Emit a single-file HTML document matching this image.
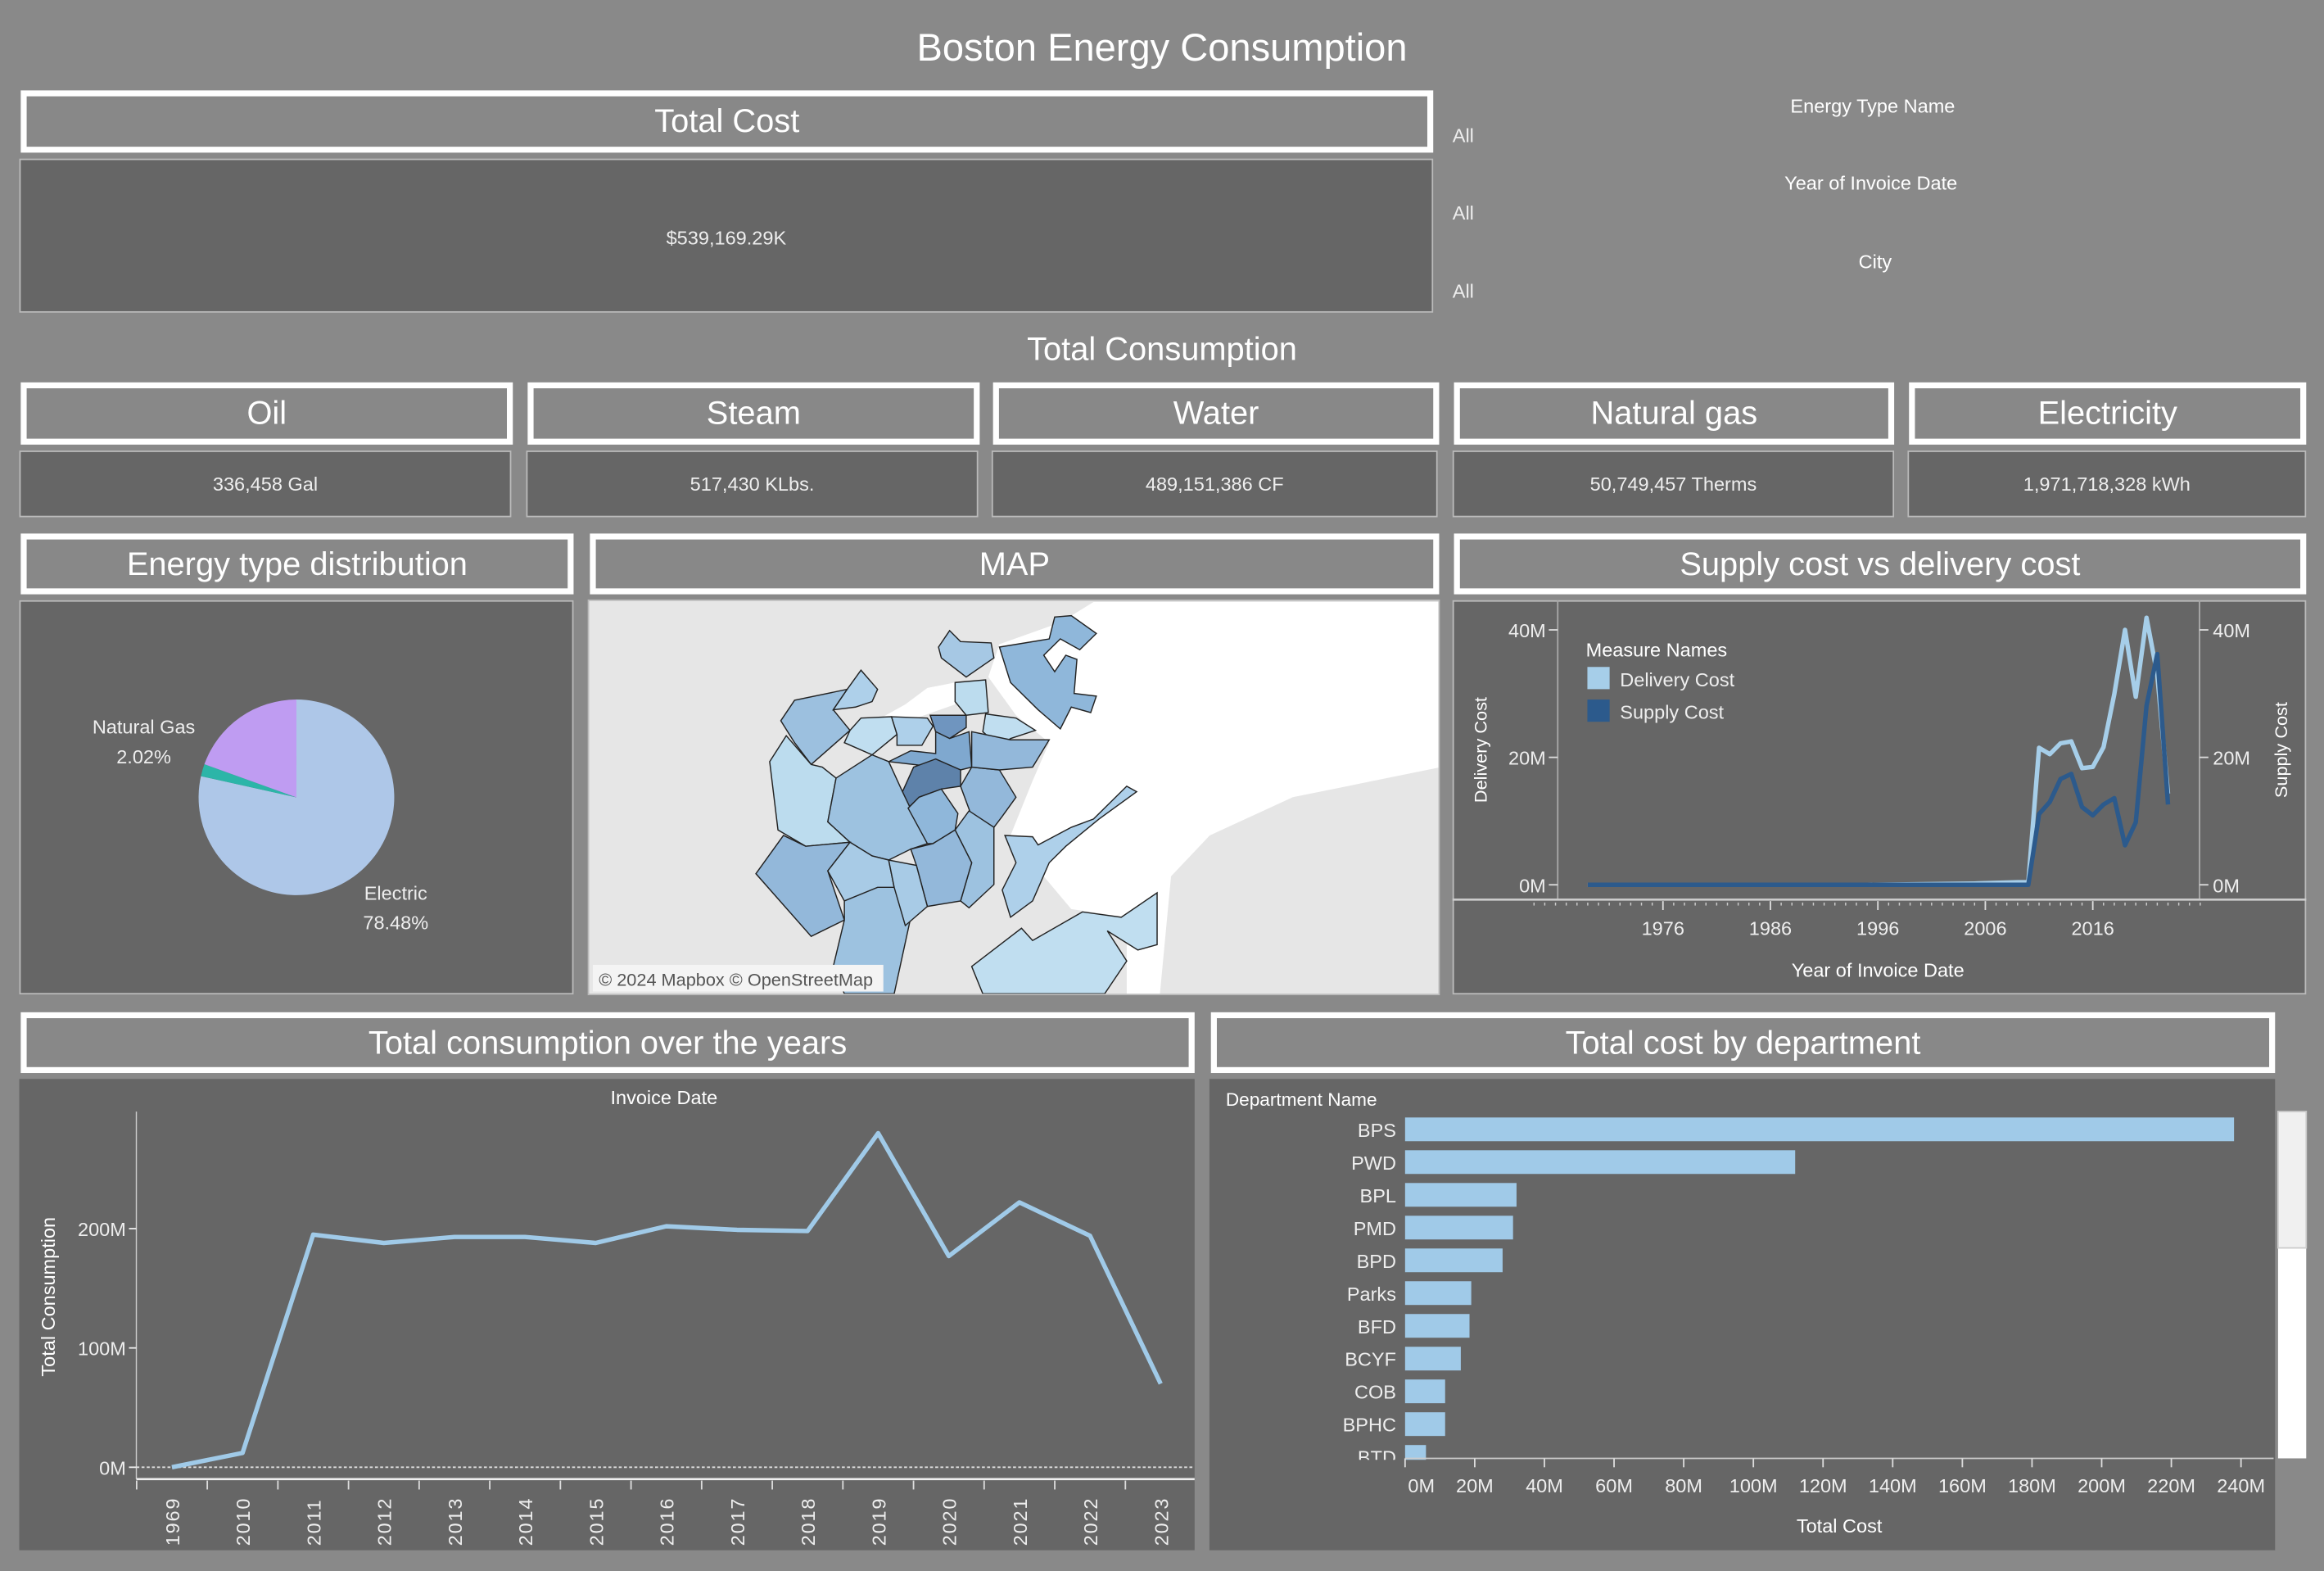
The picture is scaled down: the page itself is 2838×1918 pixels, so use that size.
<!DOCTYPE html>
<html><head><meta charset="utf-8"><style>
html,body{margin:0;padding:0;background:#898989;overflow:hidden}
body{width:2838px;height:1918px}
#root{position:absolute;left:0;top:0;width:1568px;height:1060px;transform-origin:0 0;transform:scale(1.80995,1.80943);font-family:"Liberation Sans",sans-serif;color:#fff}
.abs{position:absolute}
.hdr{position:absolute;box-sizing:border-box;border:4px solid #fff;background:#888;color:#fff;text-align:center;font-size:22px;line-height:33px}
.pan{position:absolute;box-sizing:border-box;background:#666;border:1px solid #bbb}
.val{position:absolute;width:100%;text-align:center;font-size:13px;color:#eee}
.flt{position:absolute;font-size:13px;color:#fff}
.all{position:absolute;font-size:13px;color:#eee;left:980px}
</style></head><body>
<div id="root">
<div class="abs" style="left:0;width:1568px;top:17px;text-align:center;font-size:26px">Boston Energy Consumption</div>

<div class="hdr" style="left:14px;top:61px;width:953px;height:42px">Total Cost</div>
<div class="pan" style="left:13px;top:107px;width:954px;height:104px"><div class="val" style="top:45px">$539,169.29K</div></div>

<div class="flt" style="left:1208px;top:64px">Energy Type Name</div>
<div class="all" style="top:84px">All</div>
<div class="flt" style="left:1204px;top:116px">Year of Invoice Date</div>
<div class="all" style="top:136px">All</div>
<div class="flt" style="left:1254px;top:169px">City</div>
<div class="all" style="top:189px">All</div>

<div class="abs" style="left:0;width:1568px;top:223px;text-align:center;font-size:22px">Total Consumption</div>

<div class="hdr" style="left:14px;top:258px;width:332px;height:42px">Oil</div>
<div class="pan" style="left:13px;top:304px;width:332px;height:45px"><div class="val" style="top:14px">336,458 Gal</div></div>
<div class="hdr" style="left:356px;top:258px;width:305px;height:42px">Steam</div>
<div class="pan" style="left:355px;top:304px;width:305px;height:45px"><div class="val" style="top:14px">517,430 KLbs.</div></div>
<div class="hdr" style="left:670px;top:258px;width:301px;height:42px">Water</div>
<div class="pan" style="left:669px;top:304px;width:301px;height:45px"><div class="val" style="top:14px">489,151,386 CF</div></div>
<div class="hdr" style="left:981px;top:258px;width:297px;height:42px">Natural gas</div>
<div class="pan" style="left:980px;top:304px;width:298px;height:45px"><div class="val" style="top:14px">50,749,457 Therms</div></div>
<div class="hdr" style="left:1288px;top:258px;width:268px;height:42px">Electricity</div>
<div class="pan" style="left:1287px;top:304px;width:269px;height:45px"><div class="val" style="top:14px">1,971,718,328 kWh</div></div>

<div class="hdr" style="left:14px;top:360px;width:373px;height:41px">Energy type distribution</div>
<div class="hdr" style="left:398px;top:360px;width:573px;height:41px">MAP</div>
<div class="hdr" style="left:981px;top:360px;width:575px;height:41px">Supply cost vs delivery cost</div>

<div class="pan" style="left:13px;top:405px;width:374px;height:266px"></div>
<svg class="abs" style="left:0;top:0" width="1568" height="1060" id="mainsvg"></svg>

<div class="hdr" style="left:14px;top:683px;width:792px;height:41px">Total consumption over the years</div>
<div class="hdr" style="left:817px;top:683px;width:718px;height:41px">Total cost by department</div>
</div>

<script>
// Pie data
const pieLabels=["Electric","Natural Gas","Other"];
const pieValues=[78.48,2.02,19.5];
// Supply vs delivery
const sdYears=[1969,1975,1985,1995,2005,2009,2010,2011,2012,2013,2014,2015,2016,2017,2018,2019,2020,2021,2022,2023];
const deliveryCost=[0,0,0,0,0.2,0.4,0.4,21.5,20.5,22.2,22.5,18.3,18.5,21.6,29.9,40,29.5,41.9,33,14.3];
const supplyCost=[0,0,0,0,0,0,0,11.1,13,16.6,17.4,12.2,10.9,12.6,13.6,6.2,9.8,28.1,36.2,12.6];
const sdTicks=[1976,1986,1996,2006,2016];
const sdYTicks=[0,20,40];
// Consumption
const consYears=["1969","2010","2011","2012","2013","2014","2015","2016","2017","2018","2019","2020","2021","2022","2023"];
const consValues=[0,12,195,188,193,193,188,202,199,198,280,177,222,194,70];
const consTicks=[0,100,200];
// Departments
const depts=["BPS","PWD","BPL","PMD","BPD","Parks","BFD","BCYF","COB","BPHC","BTD"];
const deptCost=[238,112,32,31,28,19,18.5,16,11.5,11.5,6];
const deptTicks=[0,20,40,60,80,100,120,140,160,180,200,220,240];

const NS="http://www.w3.org/2000/svg";
const svg=document.getElementById('mainsvg');
function mk(tag,attrs,parent,text){const e=document.createElementNS(NS,tag);for(const k in attrs)e.setAttribute(k,attrs[k]);if(text!==undefined)e.textContent=text;(parent||svg).appendChild(e);return e;}

// ---- Pie ----
const pcx=200,pcy=538,pr=66;
const pieColors=["#aec7e8","#2cb5a8","#bf9cf2"];
let acc=0;const tot=pieValues.reduce((a,b)=>a+b,0);
pieValues.forEach((v,i)=>{
  const a0=acc/tot*2*Math.PI;acc+=v;const a1=acc/tot*2*Math.PI;
  const x0=pcx+pr*Math.sin(a0),y0=pcy-pr*Math.cos(a0),x1=pcx+pr*Math.sin(a1),y1=pcy-pr*Math.cos(a1);
  const p=mk('path',{d:`M${pcx},${pcy}L${x0},${y0}A${pr},${pr} 0 ${a1-a0>Math.PI?1:0} 1 ${x1},${y1}Z`,fill:pieColors[i]});
  
  
});
let t=mk('text',{x:97,y:495,'text-anchor':'middle','font-size':13,fill:'#eee'},null,'Natural Gas');

mk('text',{x:97,y:515,'text-anchor':'middle','font-size':13,fill:'#eee'},null,pieValues[1].toFixed(2)+'%');
t=mk('text',{x:267,y:607,'text-anchor':'middle','font-size':13,fill:'#eee'},null,'Electric');

mk('text',{x:267,y:627,'text-anchor':'middle','font-size':13,fill:'#eee'},null,pieValues[0].toFixed(2)+'%');

// ---- Map ----
const mg=mk('g',{});

const mclip=mk('clipPath',{id:'mclip'},mg);mk('rect',{x:397,y:405,width:574,height:266},mclip);
const mm=mk('g',{'clip-path':'url(#mclip)'},mg);
mk('rect',{x:397,y:405,width:574,height:266,fill:'#e6e6e6'},mm);
function zp(arr){return arr.map(p=>(386.7+p[0]*0.3735).toFixed(1)+','+(397.9+p[1]*0.1842).toFixed(1)).join(' ');}
mk('polygon',{points:zp([[940,45],[1568,45],[1568,650],[1300,760],[1150,900],[1080,1050],[1060,1480],[1000,1480],[1000,1200],[900,1170],[850,1050],[790,900],[830,700],[860,560],[800,460],[750,320],[770,200],[880,120]]),fill:'#ffffff'},mm);
mk('polygon',{points:zp([[560,465],[620,470],[690,420],[690,340],[640,360],[600,420]]),fill:'#ffffff'},mm);
const polys=[
[[[375,480],[400,405],[495,365],[470,440],[500,515],[430,640],[400,560]],"#9cc0df"],
[[[470,440],[495,365],[520,295],[550,365],[540,410],[510,430]],"#aed0ea"],
[[[500,515],[520,470],[575,465],[585,530],[540,605],[490,560]],"#c0def0"],
[[[355,630],[385,535],[430,640],[450,650],[475,690],[460,850],[500,925],[420,940],[370,880]],"#bcdcee"],
[[[575,465],[640,470],[650,500],[630,570],[585,570],[585,530]],"#aed0ea"],
[[[645,460],[710,460],[710,505],[680,545],[655,520]],"#6f95bf"],
[[[690,340],[745,330],[750,450],[710,460],[690,410]],"#bcdcee"],
[[[745,455],[800,470],[835,515],[790,545],[770,575],[740,520]],"#c0def0"],
[[[570,630],[610,590],[655,600],[655,520],[680,545],[715,520],[720,650],[700,660]],"#7fa8cf"],
[[[595,740],[615,650],[655,620],[700,660],[700,720],[665,730],[625,760],[605,800]],"#5e82aa"],
[[[720,650],[770,660],[800,760],[775,830],[760,870],[720,830],[700,720]],"#93b8da"],
[[[720,520],[790,550],[860,550],[830,650],[770,660],[720,650]],"#93b8da"],
[[[475,690],[540,605],[570,630],[595,740],[640,930],[610,950],[570,990],[540,975],[500,925],[460,850]],"#9dc2e0"],
[[[605,800],[625,760],[665,730],[695,820],[690,880],[650,930],[640,930]],"#8fb7da"],
[[[690,880],[715,810],[760,870],[760,1080],[715,1165],[700,1140],[720,1000]],"#9dc2e0"],
[[[610,950],[650,930],[690,880],[720,1000],[700,1140],[640,1160],[620,1010]],"#93b8da"],
[[[330,1040],[380,900],[420,940],[500,925],[460,1030],[490,1210],[430,1270]],"#93b8da"],
[[[460,1030],[500,925],[540,975],[570,990],[580,1090],[510,1160],[490,1140]],"#a8cbe6"],
[[[490,1140],[550,1090],[580,1090],[610,1200],[580,1480],[490,1480],[470,1380],[490,1210]],"#9dc2e0"],
[[[580,1090],[570,990],[620,1010],[640,1160],[600,1230]],"#a8cbe6"],
[[[770,210],[860,180],[870,100],[900,95],[945,160],[915,220],[880,180],[850,240],[870,300],[890,240],[910,255],[905,380],[945,390],[935,450],[900,430],[880,510],[840,440],[790,340]],"#8fb7da"],
[[[680,150],[700,190],[755,195],[760,250],[710,320],[665,250],[660,210]],"#a6c8e4"],
[[[780,900],[830,905],[840,935],[900,870],[940,840],[1000,720],[1018,740],[950,840],[890,940],[860,1000],[830,1140],[790,1200],[775,1100],[800,1000]],"#aed0ea"],
[[[720,1380],[810,1240],[830,1285],[920,1180],[990,1200],[1055,1110],[1055,1300],[1020,1320],[965,1250],[1000,1360],[960,1480],[740,1480]],"#c0def0"]
];
polys.forEach(p=>{const e=mk('polygon',{points:zp(p[0]),fill:p[1],stroke:'#222','stroke-width':0.8},mm);
 });
mk('rect',{x:400,y:651,width:196,height:18,fill:'#f4f4f4'},mm);
mk('text',{x:404,y:665,'font-size':12,fill:'#555'},mm,'© 2024 Mapbox © OpenStreetMap');
mk('rect',{x:397,y:405,width:574,height:266,fill:'none',stroke:'#bbb','stroke-width':1},mg);

// ---- Supply vs delivery ----
const sg=mk('g',{});

mk('rect',{x:980.5,y:405.5,width:575,height:265,fill:'#666',stroke:'#bbb','stroke-width':1},sg);
const sx=y=>1412+(y-2016)*7.25, sy=v=>597-v*4.3;
mk('line',{x1:1051,y1:405,x2:1051,y2:607,stroke:'#aaa','stroke-width':1},sg);
mk('line',{x1:1484,y1:405,x2:1484,y2:607,stroke:'#aaa','stroke-width':1},sg);
mk('line',{x1:980,y1:607,x2:1556,y2:607,stroke:'#ccc','stroke-width':1.5},sg);
for(let y=1964;y<=2026;y++){mk('line',{x1:sx(y),y1:609,x2:sx(y),y2:611,stroke:'#ccc','stroke-width':0.8},sg);}
sdTicks.forEach(y=>{mk('line',{x1:sx(y),y1:608,x2:sx(y),y2:614,stroke:'#ddd','stroke-width':1},sg);
 mk('text',{x:sx(y),y:631,'text-anchor':'middle','font-size':13,fill:'#eee'},sg,String(y));});
sdYTicks.forEach(v=>{mk('line',{x1:1045,y1:sy(v),x2:1051,y2:sy(v),stroke:'#ddd'},sg);
 mk('text',{x:1043,y:sy(v)+5,'text-anchor':'end','font-size':13,fill:'#eee'},sg,v+'M');
 mk('line',{x1:1484,y1:sy(v),x2:1490,y2:sy(v),stroke:'#ddd'},sg);
 mk('text',{x:1493,y:sy(v)+5,'font-size':13,fill:'#eee'},sg,v+'M');});
mk('text',{x:1267,y:659,'text-anchor':'middle','font-size':13,fill:'#fff'},sg,'Year of Invoice Date');
mk('text',{x:0,y:0,transform:'translate(1003,506) rotate(-90)','text-anchor':'middle','font-size':12,fill:'#fff'},sg,'Delivery Cost');
mk('text',{x:0,y:0,transform:'translate(1543,506) rotate(-90)','text-anchor':'middle','font-size':12,fill:'#fff'},sg,'Supply Cost');
let dl=mk('polyline',{points:sdYears.map((y,i)=>sx(y)+','+sy(deliveryCost[i])).join(' '),fill:'none',stroke:'#a6cee9','stroke-width':3,'stroke-linejoin':'round'},sg);

let sl=mk('polyline',{points:sdYears.map((y,i)=>sx(y)+','+sy(supplyCost[i])).join(' '),fill:'none',stroke:'#2c5a8c','stroke-width':3,'stroke-linejoin':'round'},sg);

mk('text',{x:1070,y:443,'font-size':13,fill:'#fff'},sg,'Measure Names');
let le=mk('rect',{x:1071,y:450,width:15,height:15,fill:'#a6cee9'},sg);

mk('text',{x:1093,y:463,'font-size':13,fill:'#eee'},sg,'Delivery Cost');
le=mk('rect',{x:1071,y:472,width:15,height:15,fill:'#2c5a8c'},sg);

mk('text',{x:1093,y:485,'font-size':13,fill:'#eee'},sg,'Supply Cost');

// ---- Consumption line ----
const cg=mk('g',{});

mk('rect',{x:13,y:728,width:793,height:318,fill:'#666'},cg);
const cx=i=>116+i*47.65, cy=v=>990-v*0.805;
mk('text',{x:448,y:745,'text-anchor':'middle','font-size':13,fill:'#fff'},cg,'Invoice Date');
mk('line',{x1:92,y1:750,x2:92,y2:998,stroke:'#ccc','stroke-width':0.8},cg);
mk('line',{x1:92,y1:998,x2:806,y2:998,stroke:'#eee','stroke-width':1.5},cg);
mk('line',{x1:92,y1:990,x2:806,y2:990,stroke:'#ddd','stroke-width':1,'stroke-dasharray':'2,1.5'},cg);
consTicks.forEach(v=>{mk('line',{x1:87,y1:cy(v),x2:92,y2:cy(v),stroke:'#eee'},cg);
 mk('text',{x:85,y:cy(v)+5,'text-anchor':'end','font-size':13,fill:'#eee'},cg,v+'M');});
consYears.forEach((y,i)=>{mk('line',{x1:cx(i)-23.8,y1:999,x2:cx(i)-23.8,y2:1005,stroke:'#ddd'},cg);
 mk('text',{x:0,y:0,transform:`translate(${cx(i)+5},${1043}) rotate(-90)`,'font-size':13,fill:'#eee','letter-spacing':'1'},cg,y);});
mk('text',{x:0,y:0,transform:'translate(37,875) rotate(-90)','text-anchor':'middle','font-size':13,fill:'#fff'},cg,'Total Consumption');
let cl=mk('polyline',{points:consValues.map((v,i)=>cx(i)+','+cy(v)).join(' '),fill:'none',stroke:'#a0cae8','stroke-width':3,'stroke-linejoin':'round'},cg);


// ---- Department bars ----
const bg=mk('g',{});

mk('rect',{x:816,y:728,width:719,height:318,fill:'#666'},bg);
mk('rect',{x:1537,y:750,width:19,height:234,fill:'#fff'},bg);
const sb=mk('rect',{x:1537,y:750,width:19,height:92,fill:'#f0f0f0',stroke:'#ccc'},bg);

mk('text',{x:827,y:746,'font-size':12.5,fill:'#fff'},bg,'Department Name');
const bx=v=>948+v*2.35;
const clip=mk('clipPath',{id:'bclip'},bg);mk('rect',{x:816,y:750,width:720,height:235},clip);
const bb=mk('g',{'clip-path':'url(#bclip)'},bg);
depts.forEach((d,i)=>{const yc=762+i*22.1;
 const r=mk('rect',{x:bx(0),y:yc-8,width:bx(deptCost[i])-bx(0),height:16,fill:'#a0cae8'},bb);
 
 mk('text',{x:942,y:yc+5,'text-anchor':'end','font-size':13,fill:'#eee'},bb,d);});
mk('line',{x1:948,y1:984,x2:1534,y2:984,stroke:'#ccc'},bg);
deptTicks.forEach(v=>{mk('line',{x1:bx(v),y1:984,x2:bx(v),y2:990,stroke:'#ddd'},bg);
 mk('text',{x:bx(v)+(v===0?11:0),y:1007,'text-anchor':'middle','font-size':13,fill:'#eee'},bg,v+'M');});
mk('text',{x:1241,y:1034,'text-anchor':'middle','font-size':13,fill:'#fff'},bg,'Total Cost');
</script>
</body></html>
